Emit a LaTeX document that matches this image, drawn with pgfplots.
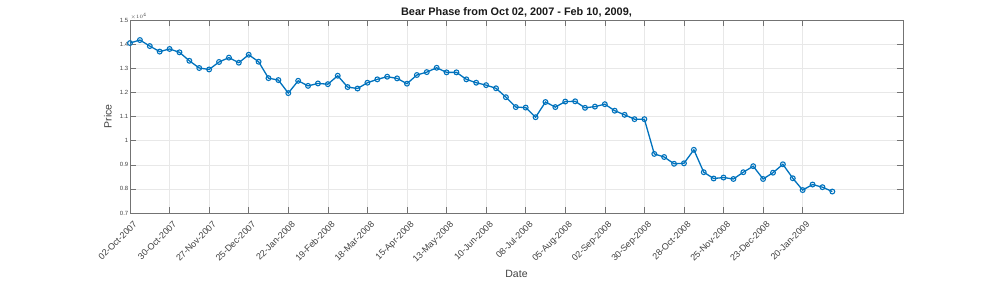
\documentclass[border=0pt]{standalone}
\usepackage{fontspec}
\setmainfont{Liberation Sans}
\usepackage{pgfplots}
\pgfplotsset{compat=1.18}
\usepackage{pgfplotstable}
\definecolor{mblue}{rgb}{0,0.447,0.741}
\definecolor{mtxt}{gray}{0.25}
\pgfplotstableread{
x y
0 1.4045
7 1.417
14 1.392
21 1.369
28 1.380
35 1.366
42 1.331
49 1.301
56 1.295
63 1.326
70 1.344
77 1.323
84 1.356
91 1.327
98 1.259
105 1.251
112 1.197
119 1.248
126 1.227
133 1.237
140 1.234
147 1.269
154 1.222
161 1.216
168 1.240
175 1.254
182 1.265
189 1.258
196 1.236
203 1.272
210 1.284
217 1.302
224 1.283
231 1.283
238 1.254
245 1.240
252 1.230
259 1.217
266 1.180
273 1.139
280 1.137
287 1.097
294 1.160
301 1.139
308 1.162
315 1.163
322 1.136
329 1.141
336 1.151
343 1.124
350 1.107
357 1.089
364 1.089
371 0.945
378 0.932
385 0.904
392 0.906
399 0.962
406 0.869
413 0.843
420 0.847
427 0.841
434 0.869
441 0.894
448 0.841
455 0.867
462 0.902
469 0.844
476 0.795
483 0.818
490 0.807
497 0.789
}\bear
\begin{document}
\begin{tikzpicture}[x=1pt,y=1pt]
\useasboundingbox (0,0) rectangle (997,281);
\begin{axis}[
  at={(130pt,68pt)}, anchor=south west,
  width=773pt, height=193pt, scale only axis,
  xmin=0, xmax=547, ymin=0.7, ymax=1.5,
  xtick={0,28,...,476},
  xticklabels={02-Oct-2007,30-Oct-2007,27-Nov-2007,25-Dec-2007,22-Jan-2008,19-Feb-2008,18-Mar-2008,15-Apr-2008,13-May-2008,10-Jun-2008,08-Jul-2008,05-Aug-2008,02-Sep-2008,30-Sep-2008,28-Oct-2008,25-Nov-2008,23-Dec-2008,20-Jan-2009},
  ytick={0.7,0.8,...,1.51},
  yticklabel style={/pgf/number format/fixed, /pgf/number format/precision=1, font=\fontsize{6}{7}\selectfont, text=mtxt, inner sep=1.5pt},
  /pgf/number format/assume math mode=true,
  xticklabel style={xshift=3pt, yshift=-6pt, rotate=45, anchor=north east, font=\fontsize{9}{10}\selectfont, text=mtxt, inner sep=1pt},
  tick align=inside, major tick length=6pt,
  tick style={black!55, line width=0.5pt},
  axis line style={black!55, line width=0.6pt},
  grid=major, major grid style={black!9, line width=0.5pt},
  xlabel={Date}, ylabel={Price},
  label style={font=\fontsize{10.5}{12}\selectfont, text=mtxt},
  xlabel style={at={(axis description cs:0.5,-0.316)}, anchor=center},
  ylabel style={at={(axis description cs:-0.0285,0.5)}, anchor=center},
  clip=false,
]
\addplot[mblue, line width=1.3pt, mark=o, mark size=2.4pt, mark options={line width=1.1pt}] table[x=x,y=y] {\bear};
\node[anchor=south west, font=\fontsize{5.5}{6}\selectfont, text=mtxt, inner sep=0.5pt] at (rel axis cs:0,1) {$\times 10^{4}$};
\node[anchor=center, font=\fontsize{10.9}{12}\selectfont\bfseries, text=black!90, inner sep=0pt, yshift=7.7pt] at (rel axis cs:0.5,1) {Bear Phase from Oct 02, 2007 - Feb 10, 2009,};
\end{axis}
\end{tikzpicture}
\end{document}
